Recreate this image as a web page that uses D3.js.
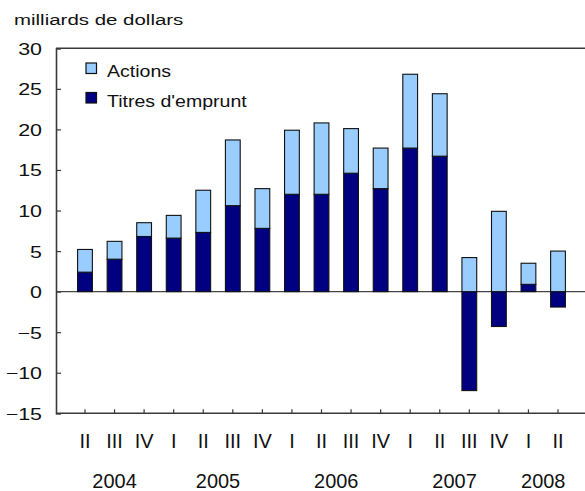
<!DOCTYPE html>
<html>
<head>
<meta charset="utf-8">
<script src="https://cdn.jsdelivr.net/npm/d3@7"></script>
<style>
  html, body { margin: 0; padding: 0; background: #fff; }
  svg { display: block; font-family: "Liberation Sans", Arial, sans-serif; }
</style>
</head>
<body>
<div id="chart"></div>
<script>
// Quarters from 2004 Q2 to 2008 Q2
const quarters = ['II', 'III', 'IV', 'I', 'II', 'III', 'IV', 'I', 'II', 'III', 'IV', 'I', 'II', 'III', 'IV', 'I', 'II'];
const years = ['2004', '2004', '2004', '2005', '2005', '2005', '2005', '2006', '2006', '2006', '2006',
               '2007', '2007', '2007', '2007', '2008', '2008'];

// billions of dollars
const titres = [2.4, 4.0, 6.8, 6.6, 7.3, 10.6, 7.8, 12.0, 12.0, 14.6, 12.7, 17.7, 16.7, -12.2, -4.3, 0.9, -1.9];
const actions = [2.8, 2.2, 1.7, 2.8, 5.2, 8.1, 4.9, 7.9, 8.8, 5.5, 5.0, 9.1, 7.7, 4.2, 9.9, 2.6, 5.0];

const yTicks = [30, 25, 20, 15, 10, 5, 0, -5, -10, -15];
const seriesNames = ['Actions', "Titres d'emprunt"];
const colors = ['#99ccff', '#000080'];

const width = 585, height = 491;
const svg = d3.select('#chart').append('svg')
    .attr('width', width)
    .attr('height', height);

// Scales
const x = d3.scaleBand()
    .domain(d3.range(quarters.length))
    .range([70.2, 572.8])
    .paddingInner(0.5)
    .paddingOuter(0.25);

const y = d3.scaleLinear()
    .domain([-15, 30])
    .range([413.3, 48.3]);

const axisX = 56;
const frame = '#3a3a3a';

// Zero line
svg.append('line')
    .attr('x1', axisX).attr('x2', width)
    .attr('y1', y(0)).attr('y2', y(0))
    .attr('stroke', '#444').attr('stroke-width', 1.2);

// Stacks: debt from zero, equity on top of positive debt (or from zero when debt is negative)
const bars = titres.map((t, i) => {
    const base = Math.max(t, 0);
    return {i: i, debt: [Math.min(t, 0), Math.max(t, 0)], eq: [base, base + actions[i]]};
});

const g = svg.append('g');
g.selectAll('.debt')
    .data(bars)
    .enter().append('rect')
    .attr('class', 'debt')
    .attr('x', d => x(d.i))
    .attr('width', x.bandwidth())
    .attr('y', d => y(d.debt[1]))
    .attr('height', d => y(d.debt[0]) - y(d.debt[1]))
    .attr('fill', colors[1])
    .attr('stroke', '#111')
    .attr('stroke-width', 1.1);

g.selectAll('.eq')
    .data(bars)
    .enter().append('rect')
    .attr('class', 'eq')
    .attr('x', d => x(d.i))
    .attr('width', x.bandwidth())
    .attr('y', d => y(d.eq[1]))
    .attr('height', d => y(d.eq[0]) - y(d.eq[1]))
    .attr('fill', colors[0])
    .attr('stroke', '#111')
    .attr('stroke-width', 1.1);

// Frame lines
svg.append('line')
    .attr('x1', axisX).attr('x2', width)
    .attr('y1', y(30)).attr('y2', y(30))
    .attr('stroke', frame).attr('stroke-width', 1.6);
svg.append('line')
    .attr('x1', axisX).attr('x2', width)
    .attr('y1', y(-15)).attr('y2', y(-15))
    .attr('stroke', frame).attr('stroke-width', 1.6);

// Y axis
const ySx = 1.3;
const yAxis = svg.append('g')
    .attr('transform', `translate(${axisX},0)`)
    .call(d3.axisLeft(y).tickValues(yTicks).tickSize(-5).tickPadding(14));
yAxis.select('.domain').attr('stroke', frame).attr('stroke-width', 1.6);
yAxis.selectAll('.tick line').attr('stroke', frame).attr('stroke-width', 1.2);
yAxis.selectAll('.tick text')
    .attr('x', -14 / ySx)
    .attr('dy', '0.36em')
    .attr('transform', `scale(${ySx},1)`)
    .style('font-size', '16.5px')
    .attr('fill', '#111')
    .style('font-family', '"Liberation Sans", Arial, sans-serif');

// X axis
const xAxis = svg.append('g')
    .attr('transform', `translate(0,${y(-15)})`)
    .call(d3.axisBottom(x).tickSize(-4).tickPadding(20).tickFormat(i => quarters[i]));
xAxis.select('.domain').remove();
xAxis.selectAll('.tick line').attr('stroke', frame).attr('stroke-width', 1.2);
xAxis.selectAll('.tick text')
    .style('font-size', '21px')
    .attr('fill', '#111')
    .attr('transform', 'scale(0.95,1)')
    .style('font-family', '"Liberation Sans", Arial, sans-serif');

// Year labels centred under their quarters
const yearGroups = d3.groups(d3.range(quarters.length), i => years[i]);
svg.append('g').selectAll('text')
    .data(yearGroups)
    .enter().append('text')
    .attr('transform', d => `translate(${d3.mean(d[1], i => x(i) + x.bandwidth() / 2)},488) scale(0.95,1)`)
    .attr('text-anchor', 'middle')
    .style('font-size', '21px')
    .attr('fill', '#111')
    .text(d => d[0]);

// Units title
svg.append('text')
    .attr('transform', 'translate(14,25) scale(1.32,1)')
    .style('font-size', '15.5px')
    .attr('fill', '#111')
    .text('milliards de dollars');

// Legend
const legend = svg.append('g');
seriesNames.forEach((name, k) => {
    legend.append('rect')
        .attr('x', 86).attr('y', 63 + k * 29.5)
        .attr('width', 10.5).attr('height', 10.5)
        .attr('fill', colors[k])
        .attr('stroke', '#111').attr('stroke-width', 1.2);
    legend.append('text')
        .attr('transform', `translate(107,${77 + k * 29.5}) scale(1.15,1)`)
        .style('font-size', '17px')
        .attr('fill', '#111')
        .text(name);
});
</script>
</body>
</html>
